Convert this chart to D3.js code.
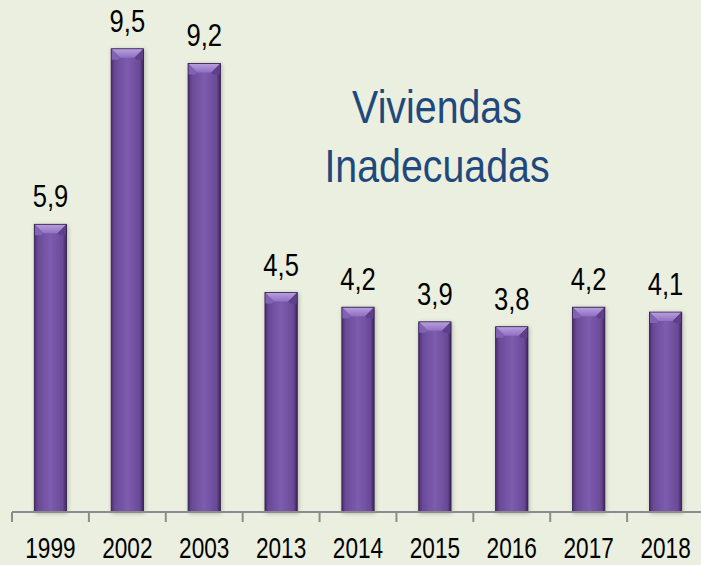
<!DOCTYPE html>
<html><head><meta charset="utf-8">
<script src="https://cdn.jsdelivr.net/npm/d3@7"></script>
<style>
html,body{margin:0;padding:0;background:#EBEFDF;}
svg{display:block;}
</style></head>
<body>
<script>
const categories = ["1999","2002","2003","2013","2014","2015","2016","2017","2018"];
const values = [5.9, 9.5, 9.2, 4.5, 4.2, 3.9, 3.8, 4.2, 4.1];
const valueLabels = ["5,9","9,5","9,2","4,5","4,2","3,9","3,8","4,2","4,1"];
const titleLines = ["Viviendas","Inadecuadas"];

const W = 701, H = 565;
const font = "'Liberation Sans',Arial,sans-serif";
const svg = d3.select("body").append("svg").attr("width", W).attr("height", H);
svg.append("rect").attr("width", W).attr("height", H).attr("fill", "#EBEFDF");

const defs = svg.append("defs");
const bodyGrad = defs.append("linearGradient").attr("id","bodyg").attr("x1","0").attr("x2","1").attr("y1","0").attr("y2","0");
[["0%","#4A2E70"],["12%","#6A4A98"],["50%","#7D5CAE"],["88%","#6A4A98"],["100%","#3E255E"]].forEach(s=>bodyGrad.append("stop").attr("offset",s[0]).attr("stop-color",s[1]));
const topGrad = defs.append("linearGradient").attr("id","topb").attr("x1","0").attr("x2","0").attr("y1","0").attr("y2","1");
[["0%","#B8A0DE"],["100%","#9070C2"]].forEach(s=>topGrad.append("stop").attr("offset",s[0]).attr("stop-color",s[1]));
const flt = defs.append("filter").attr("id","sh").attr("x","-30%").attr("y","-10%").attr("width","160%").attr("height","130%");
flt.append("feGaussianBlur").attr("in","SourceAlpha").attr("stdDeviation",2).attr("result","b");
flt.append("feOffset").attr("in","b").attr("dx",1).attr("dy",1).attr("result","o");
flt.append("feComponentTransfer").attr("in","o").attr("result","o2").append("feFuncA").attr("type","linear").attr("slope",0.25);
const mg = flt.append("feMerge"); mg.append("feMergeNode").attr("in","o2"); mg.append("feMergeNode").attr("in","SourceGraphic");

const x = d3.scaleBand().domain(categories).range([12, 704]).paddingInner(0.58).paddingOuter(0.29);
const y = d3.scaleLinear().domain([0, 10.5]).range([512, 0]);

const bars = svg.append("g").selectAll("g").data(categories).join("g").attr("filter","url(#sh)");
bars.each(function(c,i){
  const g = d3.select(this);
  const x0 = x(c), w = x.bandwidth(), y0 = y(values[i]), h = y(0)-y0;
  const bv = 9;
  g.append("rect").attr("x",x0).attr("y",y0).attr("width",w).attr("height",h).attr("fill","url(#bodyg)");
  g.append("path").attr("d",`M${x0},${y0}L${x0+w},${y0}L${x0+w-bv},${y0+bv}L${x0+bv},${y0+bv}Z`).attr("fill","url(#topb)");
  g.append("path").attr("d",`M${x0},${y0}L${x0+bv},${y0+bv}L${x0+bv-2},${y0+bv+2}L${x0},${y0+bv+2}Z`).attr("fill","#8262B4");
  g.append("path").attr("d",`M${x0+w},${y0}L${x0+w-bv},${y0+bv}L${x0+w-bv+2},${y0+bv+2}L${x0+w},${y0+bv+2}Z`).attr("fill","#5E4088");
  g.append("rect").attr("x",x0).attr("y",y0).attr("width",w).attr("height",h).attr("fill","none").attr("stroke","#2E1B48").attr("stroke-width",0.8);
});

svg.append("g").selectAll("text").data(categories).join("text")
  .attr("transform", (c,i) => `translate(${x(c)+x.bandwidth()/2},${y(values[i]) - 17}) scale(0.8,1)`)
  .attr("text-anchor","middle").attr("font-family",font).attr("font-size",32).attr("fill","#000")
  .text((c,i)=>valueLabels[i]);

const axis = d3.axisBottom(x).tickSize(0).tickPadding(25);
const ag = svg.append("g").attr("transform","translate(0,512)").call(axis);
ag.select(".domain").remove();
ag.selectAll("text").attr("font-family",font).attr("font-size",29).attr("fill","#000").attr("transform","scale(0.78,1)");
svg.append("line").attr("x1",12).attr("x2",W).attr("y1",512).attr("y2",512).attr("stroke","#8C8C8C").attr("stroke-width",2);
const step = x.step();
svg.append("g").selectAll("line").data(d3.range(categories.length+1)).join("line")
  .attr("x1", i => 12 + i*step).attr("x2", i => 12 + i*step)
  .attr("y1",512).attr("y2",522).attr("stroke","#8C8C8C").attr("stroke-width",2);

svg.append("g").selectAll("text").data(titleLines).join("text")
  .attr("transform",(d,i)=>`translate(437,${123+i*59}) scale(0.855,1)`)
  .attr("font-family",font).attr("font-size",46).attr("fill","#1F497D").attr("text-anchor","middle")
  .text(d=>d);
</script>
</body></html>
